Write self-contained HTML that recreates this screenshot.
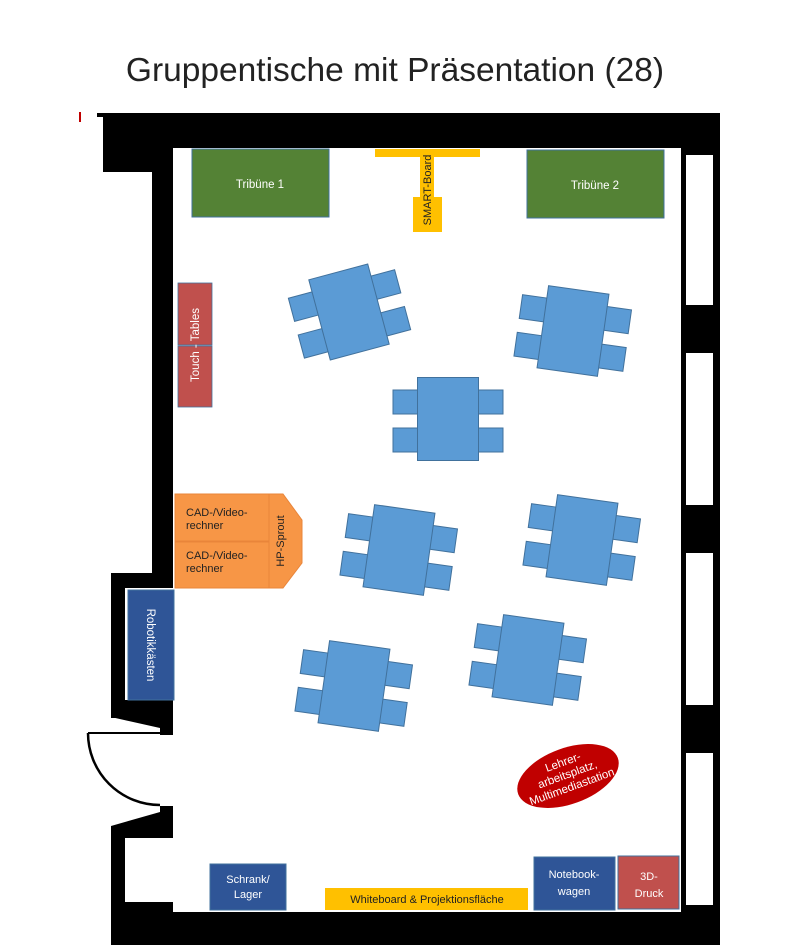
<!DOCTYPE html>
<html><head><meta charset="utf-8"><style>
html,body{margin:0;padding:0;background:#fff;}
svg{display:block;}
text{font-family:"Liberation Sans","DejaVu Sans",sans-serif;}
</style></head><body>
<svg width="793" height="945" viewBox="0 0 793 945" xmlns="http://www.w3.org/2000/svg">
<defs>
<g id="tbl">
 <g fill="#5b9bd5" stroke="#41719c" stroke-width="1">
  <rect x="-55" y="-29" width="26" height="24"/>
  <rect x="-55" y="9" width="26" height="24"/>
  <rect x="29" y="-29" width="26" height="24"/>
  <rect x="29" y="9" width="26" height="24"/>
  <rect x="-30.5" y="-41.5" width="61" height="83"/>
 </g>
</g>
</defs>
<text x="395" y="81" font-size="33.5" text-anchor="middle" fill="#222">Gruppentische mit Präsentation (28)</text>
<rect x="79" y="112" width="2" height="10" fill="#c00000"/>
<!-- walls -->
<g fill="#000">
 <rect x="97" y="113" width="623" height="4"/>
 <rect x="103" y="113" width="617" height="35"/>
 <rect x="103" y="113" width="49" height="59"/>
 <rect x="152" y="113" width="21" height="462"/>
 <rect x="111" y="573" width="62" height="15"/>
 <rect x="111" y="573" width="14" height="145"/>
 <polygon points="111,700 173,700 173,735 160,735 160,728 111,717"/>
 <polygon points="160,806 173,806 173,838 125,838 125,945 111,945 111,826 160,812"/>
 <rect x="125" y="902" width="48" height="12"/>
 <rect x="111" y="912" width="609" height="33"/>
 <rect x="681" y="113" width="39" height="832"/>
</g>
<rect x="125" y="588" width="48" height="112" fill="#fff"/>
<!-- windows -->
<g fill="#fff">
 <rect x="686" y="155" width="27" height="150"/>
 <rect x="686" y="353" width="27" height="152"/>
 <rect x="686" y="553" width="27" height="152"/>
 <rect x="686" y="753" width="27" height="152"/>
</g>
<!-- door -->
<line x1="88" y1="733" x2="160" y2="733" stroke="#000" stroke-width="2"/>
<path d="M88,733 A72,72 0 0 0 160,805" fill="none" stroke="#000" stroke-width="2.5"/>
<!-- tribunes -->
<rect x="192" y="149" width="137" height="68" fill="#548235" stroke="#41719c"/>
<text x="260" y="188" font-size="11.5" fill="#fff" text-anchor="middle">Tribüne 1</text>
<rect x="527" y="150" width="137" height="68" fill="#548235" stroke="#41719c"/>
<text x="595" y="189" font-size="11.5" fill="#fff" text-anchor="middle">Tribüne 2</text>
<!-- smart board -->
<g fill="#ffc000">
 <rect x="375" y="149" width="105" height="8"/>
 <rect x="420" y="157" width="14" height="40"/>
 <rect x="413" y="197" width="29" height="35"/>
</g>
<text transform="translate(431,190) rotate(-90)" font-size="11" text-anchor="middle" fill="#222">SMART-Board</text>
<!-- touch tables -->
<rect x="178" y="283" width="34" height="62" fill="#c0504d" stroke="#41719c" stroke-width="0.8"/>
<rect x="178" y="346" width="34" height="61" fill="#c0504d" stroke="#41719c" stroke-width="0.8"/>
<text transform="translate(199,345) rotate(-90)" font-size="11.5" text-anchor="middle" fill="#fff">Touch - Tables</text>
<!-- CAD -->
<rect x="175" y="494" width="94" height="47" fill="#f79646" stroke="#e9853a"/>
<rect x="175" y="542" width="94" height="46" fill="#f79646" stroke="#e9853a"/>
<polygon points="269,494 283,494 302,520 302,563 283,588 269,588" fill="#f79646" stroke="#e9853a"/>
<text x="186" y="516" font-size="11" fill="#222">CAD-/Video-</text>
<text x="186" y="529" font-size="11" fill="#222">rechner</text>
<text x="186" y="559" font-size="11" fill="#222">CAD-/Video-</text>
<text x="186" y="572" font-size="11" fill="#222">rechner</text>
<text transform="translate(284,541) rotate(-90)" font-size="11" text-anchor="middle" fill="#222">HP-Sprout</text>
<!-- robotik -->
<rect x="128" y="590" width="46" height="110" fill="#2f5597" stroke="#41719c"/>
<text transform="translate(147,645) rotate(90)" font-size="11.5" text-anchor="middle" fill="#fff">Robotikkästen</text>
<!-- tables -->
<use href="#tbl" transform="translate(349,312) rotate(-15)"/>
<use href="#tbl" transform="translate(573,331) rotate(8)"/>
<use href="#tbl" transform="translate(448,419)"/>
<use href="#tbl" transform="translate(399,550) rotate(8)"/>
<use href="#tbl" transform="translate(582,540) rotate(8)"/>
<use href="#tbl" transform="translate(354,686) rotate(8)"/>
<use href="#tbl" transform="translate(528,660) rotate(8)"/>
<!-- teacher -->
<g transform="translate(568,776) rotate(-20)">
 <ellipse cx="0" cy="0" rx="53" ry="28" fill="#c00000"/>
 <text x="0" y="-11" font-size="11.5" fill="#fff" text-anchor="middle">Lehrer-</text>
 <text x="0" y="2" font-size="11.5" fill="#fff" text-anchor="middle">arbeitsplatz,</text>
 <text x="0" y="15" font-size="11.5" fill="#fff" text-anchor="middle">Multimediastation</text>
</g>
<!-- bottom items -->
<rect x="210" y="864" width="76" height="46" fill="#2f5597" stroke="#41719c"/>
<text x="248" y="883" font-size="11" fill="#fff" text-anchor="middle">Schrank/</text>
<text x="248" y="898" font-size="11" fill="#fff" text-anchor="middle">Lager</text>
<rect x="325" y="888" width="203" height="22" fill="#ffc000"/>
<text x="427" y="903" font-size="11" fill="#222" text-anchor="middle">Whiteboard &amp; Projektionsfläche</text>
<rect x="534" y="857" width="81" height="53" fill="#2f5597" stroke="#41719c"/>
<text x="574" y="878" font-size="11" fill="#fff" text-anchor="middle">Notebook-</text>
<text x="574" y="895" font-size="11" fill="#fff" text-anchor="middle">wagen</text>
<rect x="618" y="856" width="61" height="53" fill="#c0504d" stroke="#41719c"/>
<text x="649" y="880" font-size="11" fill="#fff" text-anchor="middle">3D-</text>
<text x="649" y="897" font-size="11" fill="#fff" text-anchor="middle">Druck</text>
</svg>
</body></html>
